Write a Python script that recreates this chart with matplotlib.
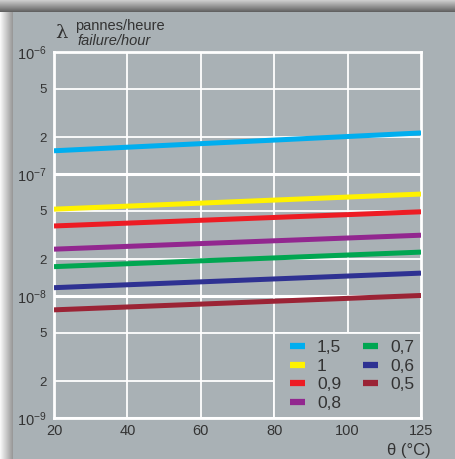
import numpy as np
import matplotlib.pyplot as plt
from matplotlib.patches import Rectangle

plt.rcParams['font.family'] = ['Liberation Sans', 'DejaVu Sans']
plt.rcParams['mathtext.default'] = 'regular'

# data (failure rate at 20 and 125 degC)
theta_ticks = [20, 40, 60, 80, 100, 125]
theta = [20, 125]
labels = ['1,5', '1', '0,9', '0,8', '0,7', '0,6', '0,5']
colors = ['#00aeef', '#fff200', '#ed1c24', '#92278f', '#00a651', '#2e3192', '#9b2335']
lam_15 = [1.55e-7, 2.17e-7]
lam_10 = [5.15e-8, 6.85e-8]
lam_09 = [3.75e-8, 4.90e-8]
lam_08 = [2.42e-8, 3.15e-8]
lam_07 = [1.74e-8, 2.29e-8]
lam_06 = [1.17e-8, 1.54e-8]
lam_05 = [7.7e-9, 1.01e-8]
series = [lam_15, lam_10, lam_09, lam_08, lam_07, lam_06, lam_05]

bg = '#a9b1b5'
txt = '#333333'

fig = plt.figure(figsize=(4.55, 4.59), dpi=100)

# background with drop shadow on top / left
H, W = 459, 455
img = np.ones((H, W, 3)) * np.array([0xa9, 0xb1, 0xb5]) / 255
yy, xx = np.mgrid[0:H, 0:W]
top = yy < 12
left = (xx < 13) & ~top
img[top] = (0.80 - 0.45 * (yy[top] / 12.0))[:, None]
img[left] = (0.97 - 0.40 * (xx[left] / 13.0))[:, None]
bga = fig.add_axes([0, 0, 1, 1])
bga.imshow(img, aspect='auto')
bga.axis('off')

ax = fig.add_axes([54 / 455, 1 - 418 / 459, 367 / 455, 366 / 459])
ax.set_facecolor(bg)
ax.set_yscale('log')
ax.set_ylim(1e-9, 1e-6)
ax.set_xlim(0, 5)

pos = np.arange(len(theta_ticks))
# grid
for p in pos[1:-1]:
    ax.axvline(p, color='white', lw=1.3, zorder=1)
for d in [1e-9, 1e-8, 1e-7]:
    for m in [1, 2, 5]:
        ax.axhline(d * m, color='white', lw=1.3 if m > 1 else 2.2, zorder=1)
# legend area masks the grid
ax.add_patch(Rectangle((3, 1e-9), 2, 4e-9, facecolor=bg, edgecolor='white', lw=1.3, zorder=1.5))

xp = np.interp(theta, theta_ticks, pos)
for lab, c, s in zip(labels, colors, series):
    ax.plot(xp, s, color=c, lw=3.6, solid_capstyle='butt', label=lab, zorder=3)

for sp in ax.spines.values():
    sp.set_color('white')
    sp.set_linewidth(2)

ax.set_xticks(pos)
ax.set_xticklabels([str(t) for t in theta_ticks], fontsize=10.5, color=txt)
yt = [1e-9, 2e-9, 5e-9, 1e-8, 2e-8, 5e-8, 1e-7, 2e-7, 5e-7, 1e-6]
ylab = []
for v in yt:
    e = int(np.floor(np.log10(v) + 1e-9))
    m = round(v / 10 ** e)
    ylab.append('$10^{%d}$' % e if m == 1 else str(m))
ax.minorticks_off()
ax.set_yticks(yt)
ax.set_yticklabels(ylab, color=txt)
for t, l in zip(ax.get_yticklabels(), ylab):
    t.set_fontsize(10.5 if l.startswith('$') else 9.5)
ax.tick_params(axis='y', length=0, pad=5)
ax.tick_params(axis='x', length=0, pad=4)

# legend in two columns
leg = ax.legend(ncol=2, frameon=False, loc='upper left',
                bbox_to_anchor=(290 / 455, 1 - 340 / 459), bbox_transform=fig.transFigure,
                borderaxespad=0, borderpad=0,
                fontsize=12.5, handlelength=0.86, handletextpad=0.7, columnspacing=1.25,
                labelspacing=0.2, labelcolor=txt)
for h in leg.legend_handles:
    h.set_linewidth(4.5)

fig.text(55 / 455, 1 - 38 / 459, 'λ', fontsize=14, color=txt, family='DejaVu Serif')
fig.text(75 / 455, 1 - 30 / 459, 'pannes/heure', fontsize=10.5, color=txt)
fig.text(78 / 455, 1 - 45 / 459, 'failure/hour', fontsize=10.5, color=txt, style='italic')
fig.text(431 / 455, 1 - 455 / 459, 'θ (°C)', fontsize=12, color=txt, ha='right')

fig.savefig('out.png', dpi=100)
